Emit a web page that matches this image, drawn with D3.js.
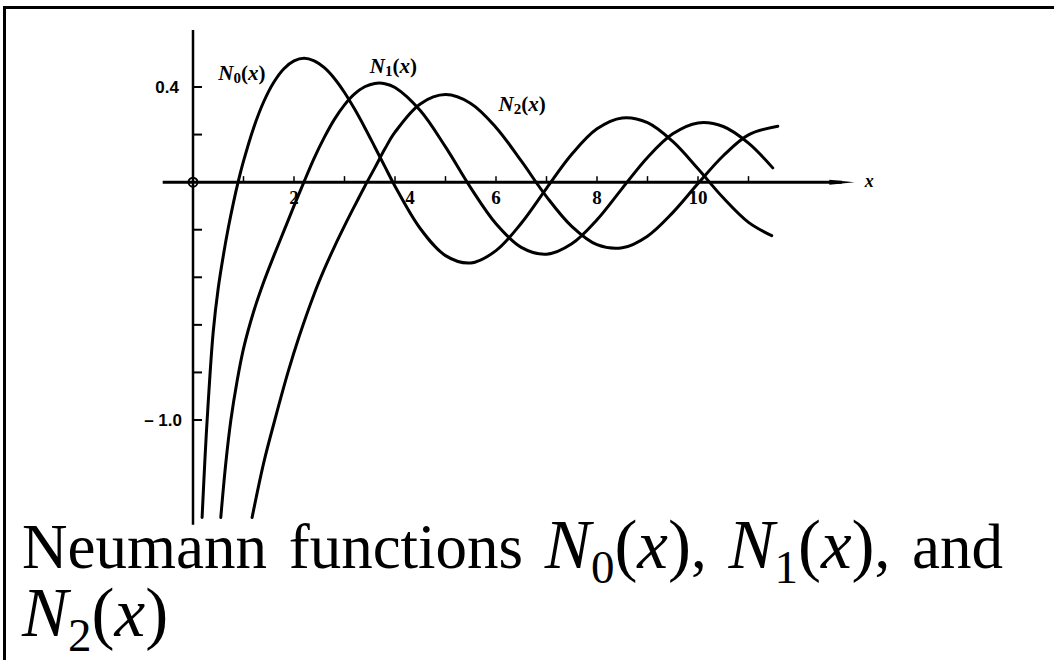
<!DOCTYPE html>
<html>
<head>
<meta charset="utf-8">
<script src="https://cdn.jsdelivr.net/npm/d3@7"></script>
<style>
  html, body { margin: 0; padding: 0; background: #fff; }
  svg { display: block; }
</style>
</head>
<body>
<svg id="chart" width="1054" height="660"></svg>
<script>
// Neumann functions N0, N1, N2 sampled along x
const n0X = [0.18, 0.24, 0.30, 0.40, 0.50, 0.60, 0.70, 0.80, 0.90, 1.00, 1.20, 1.40, 1.60, 1.80, 2.00, 2.20, 2.40, 2.60, 2.80, 3.00, 3.20, 3.40, 3.60, 3.80, 4.00, 4.50, 5.00, 5.50, 6.00, 6.50, 7.00, 7.50, 8.00, 8.50, 9.00, 9.50, 10.00, 10.50, 11.00, 11.46];
const n0Y = [-1.41, -1.15, -0.93, -0.63, -0.445, -0.309, -0.191, -0.087, 0.006, 0.088, 0.228, 0.338, 0.420, 0.477, 0.510, 0.521, 0.510, 0.481, 0.436, 0.377, 0.307, 0.230, 0.148, 0.065, -0.017, -0.195, -0.309, -0.340, -0.288, -0.173, -0.026, 0.117, 0.224, 0.270, 0.250, 0.171, 0.056, -0.066, -0.169, -0.225];

const n1X = [0.55, 0.65, 0.75, 0.87, 1.00, 1.20, 1.40, 1.60, 1.80, 2.00, 2.20, 2.40, 2.60, 2.80, 3.00, 3.20, 3.40, 3.60, 3.80, 4.00, 4.50, 5.00, 5.50, 6.00, 6.50, 7.00, 7.50, 8.00, 8.50, 9.00, 9.50, 10.00, 10.50, 11.00, 11.48];
const n1Y = [-1.41, -1.18, -1.00, -0.84, -0.70, -0.545, -0.42, -0.31, -0.205, -0.100, 0.002, 0.101, 0.188, 0.264, 0.325, 0.371, 0.401, 0.415, 0.414, 0.398, 0.301, 0.148, -0.024, -0.175, -0.274, -0.303, -0.259, -0.158, -0.026, 0.104, 0.203, 0.249, 0.234, 0.164, 0.060];

const n2X = [1.17, 1.40, 1.62, 1.88, 2.10, 2.40, 2.60, 2.80, 3.00, 3.20, 3.40, 3.60, 3.80, 4.00, 4.50, 5.00, 5.50, 6.00, 6.50, 7.00, 7.50, 8.00, 8.50, 9.00, 9.50, 10.00, 10.50, 11.00, 11.58];
const n2Y = [-1.41, -1.18, -1.00, -0.80, -0.65, -0.47, -0.366, -0.272, -0.184, -0.100, -0.018, 0.060, 0.140, 0.210, 0.329, 0.368, 0.331, 0.230, 0.089, -0.061, -0.186, -0.263, -0.276, -0.227, -0.128, -0.006, 0.111, 0.199, 0.235];

const xTickValues = [1, 2, 3, 4, 5, 6, 7, 8, 9, 10, 11];
const xTickLabels = ["2", "4", "6", "8", "10"];
const yTickValues = [0.4, 0.2, -0.2, -0.4, -0.6, -0.8, -1.0];
const yTickLabels = ["0.4", "\u2013 1.0"];
const curveNames = ["0", "1", "2"];

const svg = d3.select("#chart");
svg.append("rect").attr("width", 1054).attr("height", 660).attr("fill", "#fff");

// page frame: left and top rules
svg.append("path")
  .attr("d", "M4.5,660 L4.5,7.5 L1054,7.5")
  .attr("fill", "none").attr("stroke", "#000").attr("stroke-width", 3);

const x = d3.scaleLinear().domain([0, 12]).range([193, 799]);
const y = d3.scaleLinear().domain([0.4, -1.0]).range([87, 420]);

const g = svg.append("g");

// x axis with arrowhead
g.append("line")
  .attr("x1", x(-0.6)).attr("x2", x(12.85))
  .attr("y1", y(0)).attr("y2", y(0))
  .attr("stroke", "#000").attr("stroke-width", 3);
g.append("path")
  .attr("d", `M${x(13.1)},${y(0)} L${x(12.6)},${y(0) - 2.5} L${x(12.6)},${y(0) + 2.5} Z`)
  .attr("fill", "#000");
g.append("text")
  .attr("x", x(13.3)).attr("y", y(0) + 5)
  .attr("font-family", "Liberation Serif").attr("font-style", "italic").attr("font-weight", "bold")
  .attr("font-size", 18).text("x");

// y axis
g.append("line")
  .attr("x1", x(0)).attr("x2", x(0))
  .attr("y1", y(0.64)).attr("y2", y(-1.44))
  .attr("stroke", "#000").attr("stroke-width", 2.5);

// ticks
g.selectAll(".xt").data(xTickValues).join("line")
  .attr("x1", d => x(d)).attr("x2", d => x(d))
  .attr("y1", y(0)).attr("y2", y(0) - 6)
  .attr("stroke", "#000").attr("stroke-width", 1.5);
g.selectAll(".yt").data(yTickValues).join("line")
  .attr("x1", x(0)).attr("x2", x(0) + 9)
  .attr("y1", d => y(d)).attr("y2", d => y(d))
  .attr("stroke", "#000").attr("stroke-width", 2);

// origin marker
g.append("circle").attr("cx", x(0)).attr("cy", y(0)).attr("r", 4.5)
  .attr("fill", "none").attr("stroke", "#000").attr("stroke-width", 2);

// x tick labels
const xLabelShift = { "4": 15 };
g.selectAll(".xl").data(xTickLabels).join("text")
  .attr("x", d => x(+d) + (xLabelShift[d] || 0))
  .attr("y", y(0) + 22)
  .attr("text-anchor", "middle")
  .attr("font-family", "Liberation Serif").attr("font-weight", "bold").attr("font-size", 19)
  .text(d => d);

// y tick labels
g.selectAll(".yl").data(yTickLabels).join("text")
  .attr("x", d => d === "0.4" ? x(0) - 14 : x(0) - 11)
  .attr("y", d => y(d === "0.4" ? 0.4 : -1.0) + 6)
  .attr("text-anchor", "end")
  .attr("font-family", "Liberation Sans").attr("font-weight", "bold").attr("font-size", 17)
  .text(d => d);

// curves
const line = d3.line().x(d => x(d[0])).y(d => y(d[1])).curve(d3.curveCatmullRom.alpha(0.5));
const series = [d3.zip(n0X, n0Y), d3.zip(n1X, n1Y), d3.zip(n2X, n2Y)];
g.selectAll(".curve").data(series).join("path")
  .attr("d", line)
  .attr("fill", "none").attr("stroke", "#000").attr("stroke-width", 3)
  .attr("stroke-linejoin", "round").attr("stroke-linecap", "round");

// curve labels
const labelPos = [[0.5, 0.43], [3.5, 0.46], [6.05, 0.30]];
curveNames.forEach((n, i) => {
  const t = g.append("text")
    .attr("x", x(labelPos[i][0])).attr("y", y(labelPos[i][1]))
    .attr("font-family", "Liberation Serif").attr("font-weight", "bold").attr("font-size", 21);
  t.append("tspan").attr("font-style", "italic").text("N");
  t.append("tspan").attr("font-size", 15).attr("dy", 3).text(n);
  t.append("tspan").attr("dy", -3).text("(");
  t.append("tspan").attr("font-style", "italic").text("x");
  t.append("tspan").text(")");
});

// caption, justified across the page width
function captionLine(yBase, parts, right) {
  const t = svg.append("text").attr("x", 22).attr("y", yBase)
    .attr("font-family", "Liberation Serif").attr("font-size", 63).attr("fill", "#000");
  parts.forEach(p => {
    const s = t.append("tspan").text(p.t);
    if (p.i) s.attr("font-style", "italic");
    if (p.m) s.attr("font-size", 69);
    if (p.sub) s.attr("font-size", 47).attr("dy", 15);
    if (p.up) s.attr("dy", -15);
  });
  if (right) {
    const natural = t.node().getComputedTextLength();
    const gaps = parts.filter(p => p.t === " ").length;
    t.attr("word-spacing", (right - 22 - natural) / gaps);
  }
}
captionLine(568, [
  {t: "Neumann"}, {t: " "}, {t: "functions"}, {t: " "},
  {t: "N", i: true, m: true}, {t: "0", sub: true}, {t: "(", up: true, m: true}, {t: "x", i: true, m: true}, {t: ")", m: true}, {t: ","}, {t: " "},
  {t: "N", i: true, m: true}, {t: "1", sub: true}, {t: "(", up: true, m: true}, {t: "x", i: true, m: true}, {t: ")", m: true}, {t: ","}, {t: " "},
  {t: "and"}
], 1003);
captionLine(636, [
  {t: "N", i: true, m: true}, {t: "2", sub: true}, {t: "(", up: true, m: true}, {t: "x", i: true, m: true}, {t: ")", m: true}
], null);
</script>
</body>
</html>
